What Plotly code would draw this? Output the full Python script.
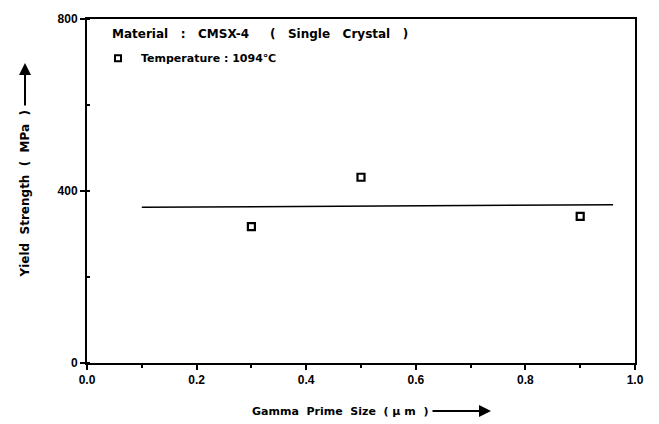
import plotly.graph_objects as go

# Data
gamma_prime_size = [0.3, 0.5, 0.9]          # µm
yield_strength = [317, 432, 341]             # MPa
fit_x = [0.1, 0.96]
fit_y = [362, 368]

x_ticks = [0.0, 0.2, 0.4, 0.6, 0.8, 1.0]
x_ticklabels = ["0.0", "0.2", "0.4", "0.6", "0.8", "1.0"]
y_ticks = [0, 400, 800]
y_ticklabels = ["0", "400", "800"]

FONT = "DejaVu Sans, Arial, sans-serif"
TFONT = "Liberation Sans, Arial, sans-serif"

fig = go.Figure()
fig.add_trace(go.Scatter(
    x=fit_x, y=fit_y, mode="lines",
    line=dict(color="black", width=1.5), showlegend=False, hoverinfo="skip"))
fig.add_trace(go.Scatter(
    x=gamma_prime_size, y=yield_strength, mode="markers",
    marker=dict(symbol="square-open", size=7, color="black", line=dict(width=2.2)),
    showlegend=False))

axis_common = dict(
    showgrid=False, zeroline=False, showline=True, linecolor="black", linewidth=2,
    mirror=True, ticks="outside", ticklen=5, tickwidth=1.5, tickcolor="black",
    tickfont=dict(family=TFONT, size=12, color="black", weight="bold"),
)

fig.update_xaxes(range=[0, 1.0], tickvals=x_ticks, ticktext=x_ticklabels,
                 minor=dict(ticks="outside", dtick=0.1, ticklen=3, tickcolor="black"),
                 **axis_common)
fig.update_yaxes(range=[0, 800], tickvals=y_ticks, ticktext=y_ticklabels,
                 minor=dict(ticks="inside", dtick=200, ticklen=3, tickcolor="black"),
                 **axis_common)

W, H = 659, 424
ml, mr, mt, mb = 87, 24, 12, 61
pw, ph = W - ml - mr, H - mt - mb

def px(x):
    return (x - ml) / pw

def py(y):
    return (H - mb - y) / ph

annotations = [
    dict(text="<b>Material   :   CMSX-4     (   Single   Crystal   )</b>",
         x=px(110), y=py(27), xref="paper", yref="paper", xanchor="left", yanchor="middle",
         showarrow=False, font=dict(family=FONT, size=12, color="black")),
    dict(text="<b>Temperature : 1094℃</b>",
         x=px(139), y=py(52), xref="paper", yref="paper", xanchor="left", yanchor="middle",
         showarrow=False, font=dict(family=FONT, size=11, color="black")),
    dict(text="<b>Gamma  Prime  Size  ( μ m  )</b>",
         x=px(430), y=py(412), xref="paper", yref="paper", xanchor="right", yanchor="middle",
         showarrow=False, font=dict(family=FONT, size=11, color="black")),
    dict(text="<b>Yield  Strength  (  MPa  )</b>",
         x=px(25), y=py(191), xref="paper", yref="paper", xanchor="center", yanchor="middle",
         textangle=-90, showarrow=False, font=dict(family=FONT, size=12, color="black")),
    # arrows
    dict(text="", x=px(491), y=py(412), ax=-60, ay=0,
         xref="paper", yref="paper",
         showarrow=True, arrowhead=2, arrowsize=1.2, arrowwidth=2, arrowcolor="black"),
    dict(text="", x=px(25), y=py(57), ax=0, ay=44,
         xref="paper", yref="paper",
         showarrow=True, arrowhead=2, arrowsize=1.2, arrowwidth=2, arrowcolor="black"),
]

# legend marker
fig.add_trace(go.Scatter(
    x=[px(118)], y=[py(52)], xaxis="x2", yaxis="y2", mode="markers",
    marker=dict(symbol="square-open", size=6, color="black", line=dict(width=2)),
    showlegend=False, hoverinfo="skip"))

fig.update_layout(
    width=W, height=H,
    margin=dict(l=ml, r=mr, t=mt, b=mb),
    paper_bgcolor="white", plot_bgcolor="white",
    annotations=annotations,
    showlegend=False,
    xaxis2=dict(overlaying="x", range=[0, 1], visible=False),
    yaxis2=dict(overlaying="y", range=[0, 1], visible=False),
)

fig.write_html("out.html")
